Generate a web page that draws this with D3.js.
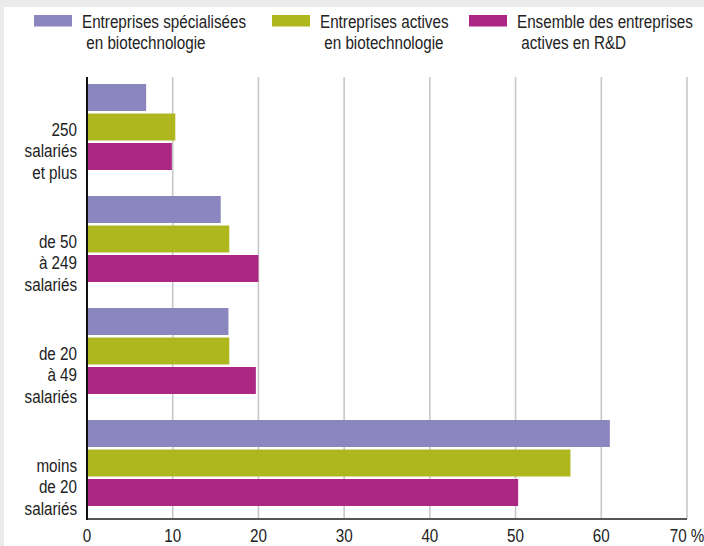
<!DOCTYPE html>
<html>
<head>
<meta charset="utf-8">
<script src="https://cdn.jsdelivr.net/npm/d3@7"></script>
<style>
  body { margin: 0; background: #ebebeb; }
  svg { display: block; font-family: "Liberation Sans", Arial, sans-serif; }
</style>
</head>
<body>
<div class="chart"></div>
<script>
// categories, top to bottom (each label split on lines)
var categories = ["250 salariés et plus", "de 50 à 249 salariés", "de 20 à 49 salariés", "moins de 20 salariés"];
var categoryLines = [["250", "salariés", "et plus"], ["de 50", "à 249", "salariés"], ["de 20", "à 49", "salariés"], ["moins", "de 20", "salariés"]];

var seriesNames = ["Entreprises spécialisées en biotechnologie", "Entreprises actives en biotechnologie", "Ensemble des entreprises actives en R&D"];
var legendLines = [["Entreprises spécialisées", " en biotechnologie"], ["Entreprises actives", " en biotechnologie"], ["Ensemble des entreprises", " actives en R&D"]];
var colors = ["#8b86be", "#afb71e", "#ac2783"];

// values in %, one array per series, same order as categories
var specialisees = [6.9, 15.6, 16.5, 61.0];
var activesBio = [10.3, 16.6, 16.6, 56.4];
var ensembleRD = [9.9, 20.0, 19.7, 50.3];
var seriesValues = [specialisees, activesBio, ensembleRD];

var xTicks = [0, 10, 20, 30, 40, 50, 60, 70];

var svgWidth = 704;
var svgHeight = 546;
var fontSize = 17.5;
var squeeze = "scale(0.87,1)"; // the original type is a narrow face

var svg = d3.select(".chart")
  .append("svg")
  .attr("width", svgWidth)
  .attr("height", svgHeight);

// white panel
svg.append("rect")
  .attr("x", 4)
  .attr("y", 7)
  .attr("width", svgWidth - 4)
  .attr("height", svgHeight - 7)
  .attr("fill", "#fff");

var x = d3.scaleLinear().domain([0, 70]).range([87, 687]);
var y0 = d3.scaleBand().domain(categories).range([72, 520]);
var y1 = d3.scaleBand().domain(d3.range(3)).range([12, 98]).paddingInner(0.085);

var plotTop = 77, plotBottom = 519;

// gridlines
svg.append("g").selectAll("line")
  .data(xTicks.slice(1))
  .enter().append("line")
  .attr("x1", d => x(d)).attr("x2", d => x(d))
  .attr("y1", plotTop).attr("y2", plotBottom)
  .attr("stroke", "#c8c8c8")
  .attr("stroke-width", 1.6);

// bars
var groups = svg.append("g").selectAll("g")
  .data(categories)
  .enter().append("g")
  .attr("transform", d => "translate(0," + y0(d) + ")");

groups.selectAll("rect")
  .data((d, i) => seriesValues.map((vals, s) => ({ s: s, v: vals[i] })))
  .enter().append("rect")
  .attr("x", x(0))
  .attr("y", d => y1(d.s))
  .attr("width", d => x(d.v) - x(0))
  .attr("height", y1.bandwidth())
  .attr("fill", d => colors[d.s]);

// category labels
groups.each(function(d, i) {
  var mid = y1.range()[0] + (y1.range()[1] - y1.range()[0]) / 2;
  d3.select(this).append("text")
    .attr("transform", "translate(77,0) " + squeeze)
    .attr("text-anchor", "end")
    .attr("font-size", fontSize)
    .attr("fill", "#222")
    .selectAll("tspan")
    .data(categoryLines[i])
    .enter().append("tspan")
    .attr("x", 0)
    .attr("y", (t, k) => mid + 9 + k * 21.3)
    .text(t => t);
});

// axes lines
svg.append("line")
  .attr("x1", x(0)).attr("x2", x(70))
  .attr("y1", plotBottom).attr("y2", plotBottom)
  .attr("stroke", "#555")
  .attr("stroke-width", 2);

svg.append("line")
  .attr("x1", x(0)).attr("x2", x(0))
  .attr("y1", plotTop).attr("y2", plotBottom + 1)
  .attr("stroke", "#111")
  .attr("stroke-width", 2);

// x tick labels
svg.append("g").selectAll("text")
  .data(xTicks)
  .enter().append("text")
  .attr("transform", d => "translate(" + x(d) + ",542) " + squeeze)
  .attr("text-anchor", "middle")
  .attr("font-size", fontSize)
  .attr("fill", "#222")
  .text(d => d === 70 ? d + " %" : d);

// legend
var legendX = [34, 272, 469];
var legend = svg.append("g").selectAll("g")
  .data(seriesNames)
  .enter().append("g")
  .attr("transform", (d, i) => "translate(" + legendX[i] + ",0)");

legend.append("rect")
  .attr("x", 0).attr("y", 15)
  .attr("width", 38).attr("height", 11.5)
  .attr("fill", (d, i) => colors[i]);

legend.append("text")
  .attr("transform", "translate(48,0) " + squeeze)
  .attr("font-size", fontSize)
  .attr("fill", "#222")
  .attr("xml:space", "preserve")
  .style("white-space", "pre")
  .selectAll("tspan")
  .data((d, i) => legendLines[i])
  .enter().append("tspan")
  .attr("x", 0)
  .attr("y", (t, k) => 28.3 + k * 21)
  .text(t => t);
</script>
</body>
</html>
